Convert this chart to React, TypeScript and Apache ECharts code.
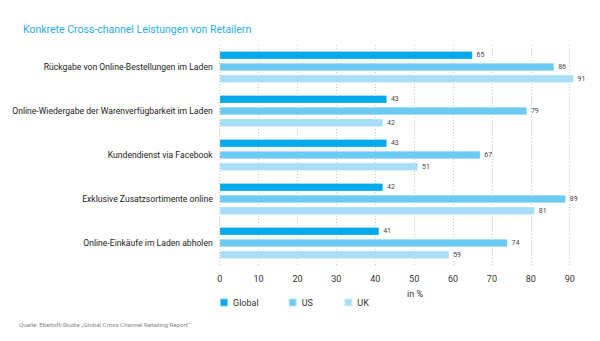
import React, { useEffect, useRef } from "react";
import * as echarts from "echarts";

const categories = [
  "Rückgabe von Online-Bestellungen im Laden",
  "Online-Wiedergabe der Warenverfügbarkeit im Laden",
  "Kundendienst via Facebook",
  "Exklusive Zusatzsortimente online",
  "Online-Einkäufe im Laden abholen",
];
const seriesNames = ["Global", "US", "UK"];
const globalValues = [65, 43, 43, 42, 41];
const usValues = [86, 79, 67, 89, 74];
const ukValues = [91, 42, 51, 81, 59];
const xTicks = [0, 10, 20, 30, 40, 50, 60, 70, 80, 90];
const colors = ["#00a9ea", "#6ccbf3", "#a8def8"];
const legendLefts = [219, 287.7, 343.3];

const FONT = "'Roboto', sans-serif";

export default function App() {
  const ref = useRef<HTMLDivElement>(null);
  useEffect(() => {
    if (!ref.current) return;
    const chart = echarts.init(ref.current, undefined, { renderer: "svg" });
    const values = [globalValues, usValues, ukValues];
    chart.setOption({
      animation: false,
      backgroundColor: "#ffffff",
      textStyle: { fontFamily: FONT },
      title: {
        text: "Konkrete Cross-channel Leistungen von Retailern",
        left: 18,
        top: 18.5,
        textStyle: { color: "#2aaee6", fontSize: 10.5, fontWeight: "normal", fontFamily: FONT },
      },
      legend: seriesNames.map((name, i) => ({
        data: [name],
        left: legendLefts[i],
        top: 297.5,
        padding: 0,
        itemWidth: 8,
        itemHeight: 8,
        itemGap: 0,
        icon: "rect",
        textStyle: { color: "#333", fontSize: 9, fontFamily: FONT },
      })),
      graphic: [
        {
          type: "text",
          left: 407,
          top: 289,
          style: { text: "in %", fill: "#333", fontSize: 9, fontFamily: FONT },
        },
        {
          type: "text",
          left: 19,
          top: 322,
          style: {
            text: "Quelle: Ebeltoft-Studie „Global Cross Channel Retailing Report“",
            fill: "#888",
            fontSize: 6.2,
            fontFamily: FONT,
          },
        },
      ],
      grid: {
        left: 219.7,
        right: 30.3,
        top: 45,
        bottom: 76,
        containLabel: false,
        outerBoundsMode: "none",
      },
      xAxis: {
        type: "value",
        min: 0,
        max: 90,
        interval: 10,
        axisLine: { show: false },
        axisTick: { show: false },
        axisLabel: { color: "#333", fontSize: 9, margin: 9, fontFamily: FONT },
        splitLine: { show: true, lineStyle: { color: "#c8c8c8", type: [1, 2], width: 1 } },
      },
      yAxis: {
        type: "category",
        data: categories,
        inverse: true,
        axisLine: { show: false },
        axisTick: { show: false },
        axisLabel: { color: "#222", fontSize: 8.6, margin: 7, fontFamily: FONT },
      },
      series: seriesNames.map((name, i) => ({
        name,
        type: "bar",
        data: values[i],
        barWidth: 8,
        barGap: "47%",
        clip: false,
        itemStyle: { color: colors[i], borderColor: "rgba(255,255,255,0.5)", borderWidth: 0.5 },
        label: {
          show: true,
          position: "right",
          distance: 4,
          color: "#444",
          fontSize: 7,
          fontFamily: FONT,
        },
      })),
    });
    return () => chart.dispose();
  }, []);
  return <div ref={ref} style={{ width: 600, height: 341, position: "absolute", left: 0, top: 0 }} />;
}
